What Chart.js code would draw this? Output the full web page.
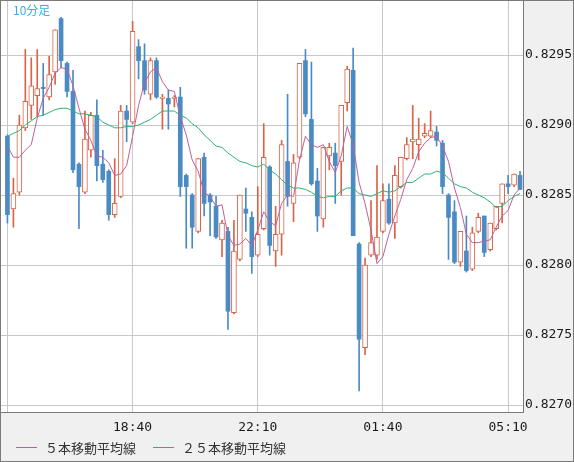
<!DOCTYPE html>
<html>
<head>
<meta charset="utf-8">
<script src="https://cdn.jsdelivr.net/npm/chart.js@4"></script>
<style>
  html, body { margin: 0; padding: 0; background: #f0f0f0; }
  canvas { display: block; }
</style>
</head>
<body>
<canvas id="chart" width="574" height="462"></canvas>
<script>
// 10-minute bars, 15:10 .. 05:30
const categories = [
  '15:10','15:20','15:30','15:40','15:50',
  '16:00','16:10','16:20','16:30','16:40','16:50',
  '17:00','17:10','17:20','17:30','17:40','17:50',
  '18:00','18:10','18:20','18:30','18:40','18:50',
  '19:00','19:10','19:20','19:30','19:40','19:50',
  '20:00','20:10','20:20','20:30','20:40','20:50',
  '21:00','21:10','21:20','21:30','21:40','21:50',
  '22:00','22:10','22:20','22:30','22:40','22:50',
  '23:00','23:10','23:20','23:30','23:40','23:50',
  '00:00','00:10','00:20','00:30','00:40','00:50',
  '01:00','01:10','01:20','01:30','01:40','01:50',
  '02:00','02:10','02:20','02:30','02:40','02:50',
  '03:00','03:10','03:20','03:30','03:40','03:50',
  '04:00','04:10','04:20','04:30','04:40','04:50',
  '05:00','05:10','05:20','05:30'
];

const opens = [
  0.82892,0.82840,0.82852,0.82898,0.82914,0.82921,0.82927,0.82920,0.82938,0.82976,
  0.82944,0.82924,0.82872,0.82852,0.82882,0.82907,0.82872,0.82867,0.82836,0.82849,
  0.82910,0.82902,0.82956,0.82946,0.82922,0.82946,0.82919,0.82919,0.82919,0.82920,
  0.82864,0.82850,0.82824,0.82877,0.82850,0.82842,0.82818,0.82824,0.82766,0.82804,
  0.82840,0.82834,0.82807,0.82826,0.82870,0.82810,0.82822,0.82874,0.82844,0.82877,
  0.82946,0.82904,0.82860,0.82833,0.82878,0.82880,0.82874,0.82916,0.82939,0.82815,
  0.82741,0.82807,0.82807,0.82824,0.82847,0.82830,0.82856,0.82876,0.82888,0.82886,
  0.82892,0.82892,0.82895,0.82887,0.82850,0.82838,0.82802,0.82810,0.82797,0.82824,
  0.82835,0.82811,0.82826,0.82844,0.82858,0.82857,0.82864
];
const highs = [
  0.82893,0.82862,0.82907,0.82954,0.82948,0.82954,0.82944,0.82949,0.82968,0.82977,
  0.82945,0.82939,0.82873,0.82910,0.82909,0.82918,0.82882,0.82868,0.82876,0.82914,
  0.82914,0.82974,0.82961,0.82958,0.82948,0.82948,0.82922,0.82925,0.82921,0.82927,
  0.82865,0.82851,0.82876,0.82880,0.82851,0.82849,0.82832,0.82827,0.82832,0.82850,
  0.82855,0.82838,0.82856,0.82901,0.82871,0.82842,0.82889,0.82922,0.82879,0.82944,
  0.82954,0.82945,0.82869,0.82884,0.82887,0.82887,0.82914,0.82942,0.82955,0.82816,
  0.82805,0.82846,0.82871,0.82858,0.82858,0.82871,0.82877,0.82891,0.82914,0.82905,
  0.82901,0.82910,0.82899,0.82889,0.82851,0.82846,0.82824,0.82835,0.82827,0.82837,
  0.82835,0.82830,0.82842,0.82858,0.82864,0.82865,0.82867
];
const lows = [
  0.82830,0.82827,0.82850,0.82896,0.82904,0.82906,0.82907,0.82918,0.82929,0.82941,
  0.82920,0.82866,0.82826,0.82851,0.82877,0.82860,0.82859,0.82832,0.82834,0.82848,
  0.82888,0.82901,0.82933,0.82922,0.82918,0.82919,0.82897,0.82897,0.82913,0.82849,
  0.82812,0.82812,0.82823,0.82835,0.82821,0.82819,0.82806,0.82754,0.82765,0.82803,
  0.82824,0.82794,0.82806,0.82825,0.82807,0.82799,0.82807,0.82842,0.82831,0.82876,
  0.82906,0.82857,0.82824,0.82827,0.82868,0.82844,0.82850,0.82910,0.82821,0.82710,
  0.82736,0.82806,0.82804,0.82823,0.82829,0.82819,0.82855,0.82875,0.82876,0.82875,
  0.82891,0.82891,0.82885,0.82851,0.82804,0.82801,0.82799,0.82795,0.82796,0.82823,
  0.82806,0.82810,0.82825,0.82830,0.82851,0.82856,0.82854
];
const closes = [
  0.82836,0.82851,0.82900,0.82917,0.82928,0.82926,0.82926,0.82936,0.82968,0.82946,
  0.82924,0.82868,0.82856,0.82890,0.82907,0.82871,0.82861,0.82836,0.82844,0.82910,
  0.82904,0.82967,0.82946,0.82925,0.82946,0.82920,0.82920,0.82915,0.82920,0.82856,
  0.82856,0.82827,0.82876,0.82844,0.82845,0.82820,0.82830,0.82767,0.82810,0.82850,
  0.82837,0.82806,0.82822,0.82877,0.82814,0.82822,0.82886,0.82849,0.82873,0.82944,
  0.82908,0.82858,0.82835,0.82884,0.82884,0.82871,0.82914,0.82940,0.82821,0.82747,
  0.82800,0.82816,0.82820,0.82846,0.82830,0.82864,0.82877,0.82886,0.82890,0.82890,
  0.82894,0.82896,0.82889,0.82856,0.82834,0.82802,0.82824,0.82796,0.82823,0.82834,
  0.82809,0.82830,0.82842,0.82858,0.82856,0.82865,0.82854
];

// moving averages as drawn on the chart
const ma5 = [
  0.82885,0.82877,0.82877,0.82882,0.82886,0.82905,0.82919,0.82927,0.82937,0.82941,
  0.82940,0.82928,0.82912,0.82897,0.82889,0.82878,0.82877,0.82873,0.82864,0.82865,
  0.82871,0.82892,0.82914,0.82930,0.82938,0.82941,0.82931,0.82925,0.82924,0.82906,
  0.82893,0.82875,0.82867,0.82852,0.82849,0.82842,0.82843,0.82821,0.82814,0.82815,
  0.82819,0.82814,0.82825,0.82838,0.82831,0.82828,0.82844,0.82850,0.82849,0.82875,
  0.82892,0.82886,0.82884,0.82886,0.82874,0.82866,0.82878,0.82899,0.82886,0.82859,
  0.82844,0.82825,0.82801,0.82806,0.82822,0.82835,0.82847,0.82861,0.82869,0.82881,
  0.82887,0.82891,0.82892,0.82885,0.82874,0.82855,0.82841,0.82822,0.82816,0.82816,
  0.82817,0.82818,0.82827,0.82835,0.82839,0.82850,0.82855
];
const ma25 = [
  0.82892,0.82894,0.82896,0.82900,0.82903,0.82906,0.82907,0.82909,0.82911,0.82912,
  0.82912,0.82910,0.82908,0.82908,0.82907,0.82906,0.82902,0.82900,0.82898,0.82898,
  0.82899,0.82899,0.82900,0.82902,0.82904,0.82907,0.82910,0.82910,0.82910,0.82907,
  0.82905,0.82901,0.82898,0.82893,0.82889,0.82885,0.82884,0.82880,0.82877,0.82874,
  0.82873,0.82871,0.82870,0.82872,0.82868,0.82865,0.82861,0.82857,0.82855,0.82855,
  0.82854,0.82852,0.82849,0.82848,0.82849,0.82849,0.82853,0.82855,0.82855,0.82851,
  0.82850,0.82849,0.82851,0.82853,0.82852,0.82853,0.82856,0.82859,0.82859,0.82862,
  0.82865,0.82865,0.82867,0.82866,0.82862,0.82858,0.82856,0.82855,0.82852,0.82850,
  0.82848,0.82845,0.82841,0.82842,0.82846,0.82849,0.82851
];

const yTicks = [0.8270, 0.8275, 0.8280, 0.8285, 0.8290, 0.8295];
const gridIdx = [0, 21, 42, 63, 84];

const RED = '#da6448';
const BLUE = '#4a8bc4';
const up = closes.map((c, i) => c >= opens[i]);
const candleColors = up.map(u => u ? RED : BLUE);

const framePlugin = {
  id: 'frame',
  beforeDraw(chart) {
    const { ctx, chartArea: a } = chart;
    ctx.save();
    ctx.fillStyle = '#f0f0f0';
    ctx.fillRect(0, 0, chart.width, chart.height);
    ctx.fillStyle = '#ffffff';
    ctx.fillRect(a.left, a.top, a.right - a.left, a.bottom - a.top);
    ctx.restore();
  },
  afterDraw(chart) {
    const { ctx, chartArea: a } = chart;
    ctx.save();
    ctx.strokeStyle = '#7a7a7a';
    ctx.lineWidth = 1;
    ctx.strokeRect(0.5, 0.5, chart.width - 1, chart.height - 1);
    ctx.beginPath();
    ctx.moveTo(a.right + 0.5, 0);
    ctx.lineTo(a.right + 0.5, a.bottom + 1);
    ctx.moveTo(0, a.bottom + 0.5);
    ctx.lineTo(a.right + 1, a.bottom + 0.5);
    ctx.stroke();

    ctx.fillStyle = '#3aaee4';
    ctx.font = '12px "Noto Sans CJK JP"';
    ctx.textBaseline = 'middle';
    ctx.fillText('10分足', 13, 10);

    // legend for the two moving averages
    const legendX = [16, 153];
    ctx.font = '13px "Noto Sans CJK JP"';
    chart.data.datasets.filter(d => d.type === 'line').forEach((d, i) => {
      const x = legendX[i];
      ctx.strokeStyle = d.borderColor;
      ctx.beginPath();
      ctx.moveTo(x, 447.5);
      ctx.lineTo(x + 21, 447.5);
      ctx.stroke();
      ctx.fillStyle = '#333333';
      ctx.fillText(d.label, x + 29, 448);
    });
    ctx.restore();
  }
};

const noPad = s => {
  s.paddingTop = 0;
  s.paddingBottom = 0;
  s.paddingLeft = 0;
  s.paddingRight = 0;
};

Chart.defaults.font.family = '"DejaVu Sans Mono"';

new Chart(document.getElementById('chart'), {
  type: 'bar',
  data: {
    datasets: [
      {
        type: 'bar',
        label: 'wick',
        data: lows.map((l, i) => ({ x: i, y: [l, highs[i]] })),
        backgroundColor: candleColors,
        borderWidth: 0,
        barThickness: 1,
        grouped: false,
        order: 4
      },
      {
        type: 'bar',
        label: 'up',
        data: opens.map((o, i) => up[i] ? { x: i, y: [o, closes[i]] } : null).filter(Boolean),
        backgroundColor: '#ffffff',
        borderColor: RED,
        borderWidth: 1,
        borderSkipped: false,
        barThickness: 5,
        minBarLength: 1,
        grouped: false,
        order: 3
      },
      {
        type: 'bar',
        label: 'down',
        data: opens.map((o, i) => up[i] ? null : { x: i, y: [o, closes[i]] }).filter(Boolean),
        backgroundColor: BLUE,
        borderWidth: 0,
        barThickness: 4,
        minBarLength: 1,
        grouped: false,
        order: 2
      },
      {
        type: 'line',
        label: '５本移動平均線',
        data: ma5.map((v, i) => ({ x: i, y: v })),
        borderColor: '#c0609a',
        borderWidth: 1,
        pointRadius: 0,
        order: 0
      },
      {
        type: 'line',
        label: '２５本移動平均線',
        data: ma25.map((v, i) => ({ x: i, y: v })),
        borderColor: '#2db372',
        borderWidth: 1,
        pointRadius: 0,
        order: 1
      }
    ]
  },
  options: {
    responsive: false,
    animation: false,
    devicePixelRatio: 1,
    layout: { padding: { top: 1, left: 1, right: 0, bottom: 0 } },
    scales: {
      x: {
        type: 'linear',
        min: -1.08,
        max: 86.5,
        offset: false,
        afterBuildTicks: s => { s.ticks = gridIdx.map(v => ({ value: v })); },
        afterFit: s => { s.height = 50; noPad(s); },
        grid: { color: '#c8c8c8', offset: false, drawTicks: false },
        border: { display: false },
        ticks: {
          autoSkip: false,
          maxRotation: 0,
          padding: 8,
          color: '#1a1a1a',
          font: { size: 13 },
          callback: v => v === 0 ? '' : categories[v]
        }
      },
      y: {
        position: 'right',
        min: 0.82695,
        max: 0.829886,
        afterBuildTicks: s => { s.ticks = yTicks.map(v => ({ value: v })); },
        afterFit: s => { s.width = 51; noPad(s); },
        grid: { color: '#c8c8c8', drawTicks: false },
        border: { display: false },
        ticks: {
          padding: 2,
          color: '#1a1a1a',
          font: { size: 13 },
          callback: v => v.toFixed(4)
        }
      }
    },
    plugins: {
      legend: { display: false },
      tooltip: { enabled: false }
    }
  },
  plugins: [framePlugin]
});
</script>
</body>
</html>
